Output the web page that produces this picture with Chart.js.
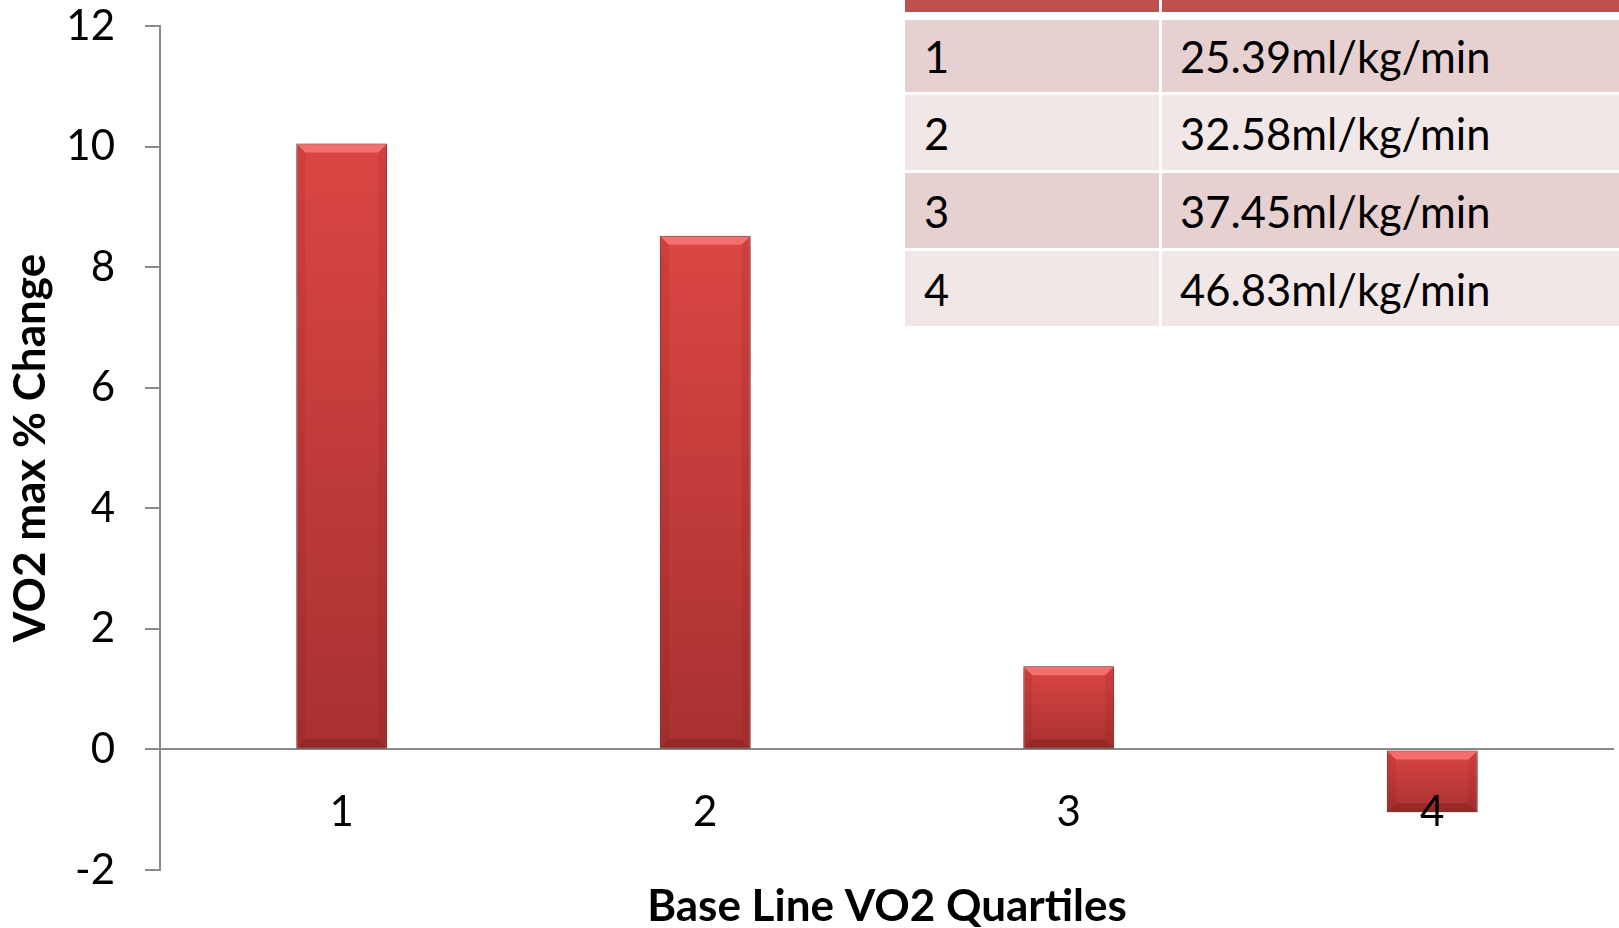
<!DOCTYPE html>
<html><head><meta charset="utf-8">
<script src="https://cdn.jsdelivr.net/npm/chart.js@4.4.1/dist/chart.umd.min.js"></script>
<style>
html,body{margin:0;padding:0;background:#fff;overflow:hidden;}
#wrap{position:relative;width:1619px;height:928px;}
#c{position:absolute;left:0;top:0;}
#tbl{position:absolute;left:0;top:0;width:1619px;height:928px;pointer-events:none;font-family:Lato,'Open Sans',sans-serif;font-size:43.5px;color:#000;}
.cell{position:absolute;display:flex;align-items:center;box-sizing:border-box;white-space:nowrap;}
</style>
</head><body>
<div id="wrap"><canvas id="c" width="1619" height="928"></canvas><div id="tbl"></div></div>
<script>
// ---- data ----
const categories = ['1', '2', '3', '4'];
const vo2MaxChange = [10.05, 8.52, 1.38, -1.04];
const yMin = -2, yMax = 12, yStep = 2;
const tableQuartiles = ['1', '2', '3', '4'];
const tableBaseline = ['25.39ml/kg/min', '32.58ml/kg/min', '37.45ml/kg/min', '46.83ml/kg/min'];
const xTitle = 'Base Line VO2 Quartiles';
const yTitle = 'VO2 max % Change';

// ---- table (real text) ----
(function buildTable(){
  const t = document.getElementById('tbl');
  const colL = [905, 1162], colW = [254, 470];
  const rowTop = [20, 95, 173, 251], rowH = [72, 75, 75, 75];
  const rowBg = ['#E7D0D0', '#F2E7E7', '#E7D0D0', '#F2E7E7'];
  for (let c = 0; c < 2; c++) {
    const h = document.createElement('div');
    h.className = 'cell';
    h.style.cssText = `left:${colL[c]}px;top:0;width:${colW[c]}px;height:12px;background:#C0504D;`;
    t.appendChild(h);
  }
  tableQuartiles.forEach((q, i) => {
    [q, tableBaseline[i]].forEach((txt, c) => {
      const d = document.createElement('div');
      d.className = 'cell';
      d.style.cssText = `left:${colL[c]}px;top:${rowTop[i]}px;width:${colW[c]}px;height:${rowH[i]}px;background:${rowBg[i]};padding-left:${c === 0 ? 19 : 18}px;`;
      d.textContent = txt;
      t.appendChild(d);
    });
  });
})();

// ---- chart ----
const shadowPlugin = {
  id: 'barShadow',
  beforeDatasetsDraw(chart) {
    const c = chart.ctx;
    c.save();
    c.shadowColor = 'rgba(0,0,0,0.35)';
    c.shadowBlur = 8;
    c.shadowOffsetY = 4;
  },
  afterDatasetsDraw(chart) {
    chart.ctx.restore();
    const c = chart.ctx;
    const meta = chart.getDatasetMeta(0);
    meta.data.forEach(el => {
      const p = el.getProps(['x', 'y', 'base', 'width'], true);
      const l = p.x - p.width / 2, r = p.x + p.width / 2;
      const t = Math.min(p.y, p.base), b = Math.max(p.y, p.base);
      const bv = Math.min(9, (b - t) / 3);
      c.save();
      c.fillStyle = 'rgba(255,130,130,0.7)';
      c.beginPath(); c.moveTo(l + 1, t + 1); c.lineTo(r - 1, t + 1); c.lineTo(r - bv, t + bv); c.lineTo(l + bv, t + bv); c.closePath(); c.fill();
      c.fillStyle = 'rgba(90,10,10,0.25)';
      c.beginPath(); c.moveTo(l + 1, b - 1); c.lineTo(r - 1, b - 1); c.lineTo(r - bv, b - bv); c.lineTo(l + bv, b - bv); c.closePath(); c.fill();
      c.fillStyle = 'rgba(120,20,20,0.12)';
      c.beginPath(); c.moveTo(l + 1, t + 1); c.lineTo(l + bv, t + bv); c.lineTo(l + bv, b - bv); c.lineTo(l + 1, b - 1); c.closePath(); c.fill();
      c.beginPath(); c.moveTo(r - 1, t + 1); c.lineTo(r - bv, t + bv); c.lineTo(r - bv, b - bv); c.lineTo(r - 1, b - 1); c.closePath(); c.fill();
      c.restore();
    });
  }
};

new Chart(document.getElementById('c'), {
  type: 'bar',
  data: {
    labels: categories,
    datasets: [{
      data: vo2MaxChange,
      barPercentage: 0.25,
      categoryPercentage: 1.0,
      borderColor: '#7A2220',
      borderWidth: 1,
      borderSkipped: false,
      backgroundColor(ctx) {
        const chart = ctx.chart;
        const ys = chart.scales && chart.scales.y;
        if (!ys || ctx.type !== 'data') return '#C0504D';
        const y0 = ys.getPixelForValue(0), y1 = ys.getPixelForValue(ctx.raw);
        const top = Math.min(y0, y1), bot = Math.max(y0, y1);
        if (!isFinite(top) || !isFinite(bot) || bot - top < 1) return '#C0504D';
        const g = chart.ctx.createLinearGradient(0, top, 0, bot);
        g.addColorStop(0, '#DB4644');
        g.addColorStop(1, '#A73130');
        return g;
      }
    }]
  },
  options: {
    responsive: false,
    animation: false,
    devicePixelRatio: 1,
    layout: { padding: { top: 26, right: 5, bottom: 0, left: 0 } },
    plugins: { legend: { display: false }, tooltip: { enabled: false } },
    scales: {
      x: {
        grid: { display: false },
        border: { display: false },
        ticks: { z: 1, mirror: true, font: { family: 'Lato', size: 42 }, color: '#000', padding: 32 },
        title: { display: true, text: xTitle, color: '#000', font: { family: 'Lato', size: 44, weight: 'bold', lineHeight: 1 }, padding: { top: 0, bottom: -1 } },
        afterFit(s) { s.height = 58; s.paddingLeft = 0; s.paddingRight = 0; }
      },
      y: {
        min: yMin, max: yMax,
        ticks: { stepSize: yStep, font: { family: 'Lato', size: 42 }, color: '#000', padding: 30 },
        grid: {
          color: c => (c.tick && c.tick.value === 0) ? '#8A8A8A' : 'rgba(0,0,0,0)',
          tickColor: '#8A8A8A',
          tickLength: 15,
          lineWidth: 2
        },
        border: { display: true, color: '#8A8A8A', width: 2 },
        title: { display: true, text: yTitle, color: '#000', font: { family: 'Lato', size: 44, weight: 'bold', lineHeight: 1 }, padding: { top: 9, bottom: 0 } },
        afterFit(s) { s.width = 160; s.paddingTop = 0; s.paddingBottom = 0; }
      }
    }
  },
  plugins: [shadowPlugin]
});
</script>
</body></html>
